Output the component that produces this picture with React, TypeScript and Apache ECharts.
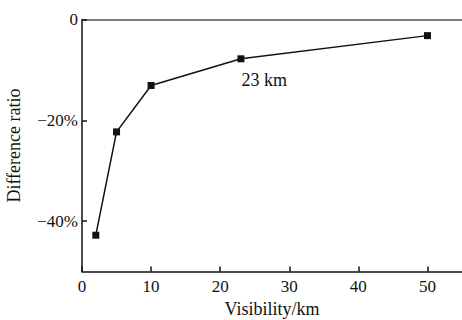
import React, { useEffect, useRef } from "react";
import * as echarts from "echarts";

const visibility = [2, 5, 10, 23, 50];
const diffRatio = [-42.8, -22.3, -13.1, -7.8, -3.2];
const xTicks = [0, 10, 20, 30, 40, 50];
const yTicks = [0, -20, -40];
const annotatedIndex = 3;
const annotationText = "23 km";

export default function App() {
  const ref = useRef<HTMLDivElement>(null);
  useEffect(() => {
    if (!ref.current) return;
    const chart = echarts.init(ref.current, null, { renderer: "svg" });
    const font = "Liberation Serif";
    chart.setOption({
      animation: false,
      backgroundColor: "#ffffff",
      grid: { left: 82, right: 0, top: 19.5, bottom: 48.5, outerBoundsMode: "none", containLabel: false },
      xAxis: [
        {
          type: "value",
          min: 0,
          max: 55,
          name: "Visibility/km",
          nameLocation: "middle",
          nameGap: 28,
          nameTextStyle: { fontFamily: font, fontSize: 18, color: "#111" },
          axisLine: { show: true, onZero: false, lineStyle: { color: "#111", width: 1.5 } },
          axisTick: { show: true, inside: true, length: 5, customValues: xTicks, lineStyle: { color: "#111", width: 1.5 } },
          axisLabel: { fontFamily: font, fontSize: 17, color: "#111", margin: 6, customValues: xTicks },
          splitLine: { show: false },
        },
        {
          type: "value",
          position: "top",
          min: 0,
          max: 55,
          axisLine: { show: true, onZero: false, lineStyle: { color: "#555", width: 1.5 } },
          axisTick: { show: false },
          axisLabel: { show: false },
          splitLine: { show: false },
        },
      ],
      yAxis: {
        type: "value",
        min: -50,
        max: 0,
        name: "Difference ratio",
        nameLocation: "middle",
        nameGap: 59,
        nameTextStyle: { fontFamily: font, fontSize: 18, color: "#111" },
        axisLine: { show: true, onZero: false, lineStyle: { color: "#111", width: 1.5 } },
        axisTick: { show: true, inside: true, length: 5, customValues: yTicks, lineStyle: { color: "#111", width: 1.5 } },
        axisLabel: {
          fontFamily: font,
          fontSize: 17,
          color: "#111",
          margin: 4,
          customValues: yTicks,
          formatter: (v: number) => (v === 0 ? "0" : "\u2212" + Math.abs(v) + "%"),
        },
        splitLine: { show: false },
      },
      series: [
        {
          type: "line",
          xAxisIndex: 0,
          data: visibility.map((x, i) => {
            const item: any = { value: [x, diffRatio[i]] };
            if (i === annotatedIndex) {
              item.label = {
                show: true,
                formatter: annotationText,
                position: [4, 16],
                align: "left",
                verticalAlign: "top",
                fontFamily: font,
                fontSize: 18,
                color: "#111",
              };
            }
            return item;
          }),
          symbol: "rect",
          symbolSize: 7,
          lineStyle: { color: "#111", width: 1.5 },
          itemStyle: { color: "#111" },
          label: { show: false },
        },
      ],
    });
    return () => chart.dispose();
  }, []);
  return (
    <div
      ref={ref}
      style={{ position: "absolute", left: 0, top: 0, width: 462, height: 320 }}
    />
  );
}
